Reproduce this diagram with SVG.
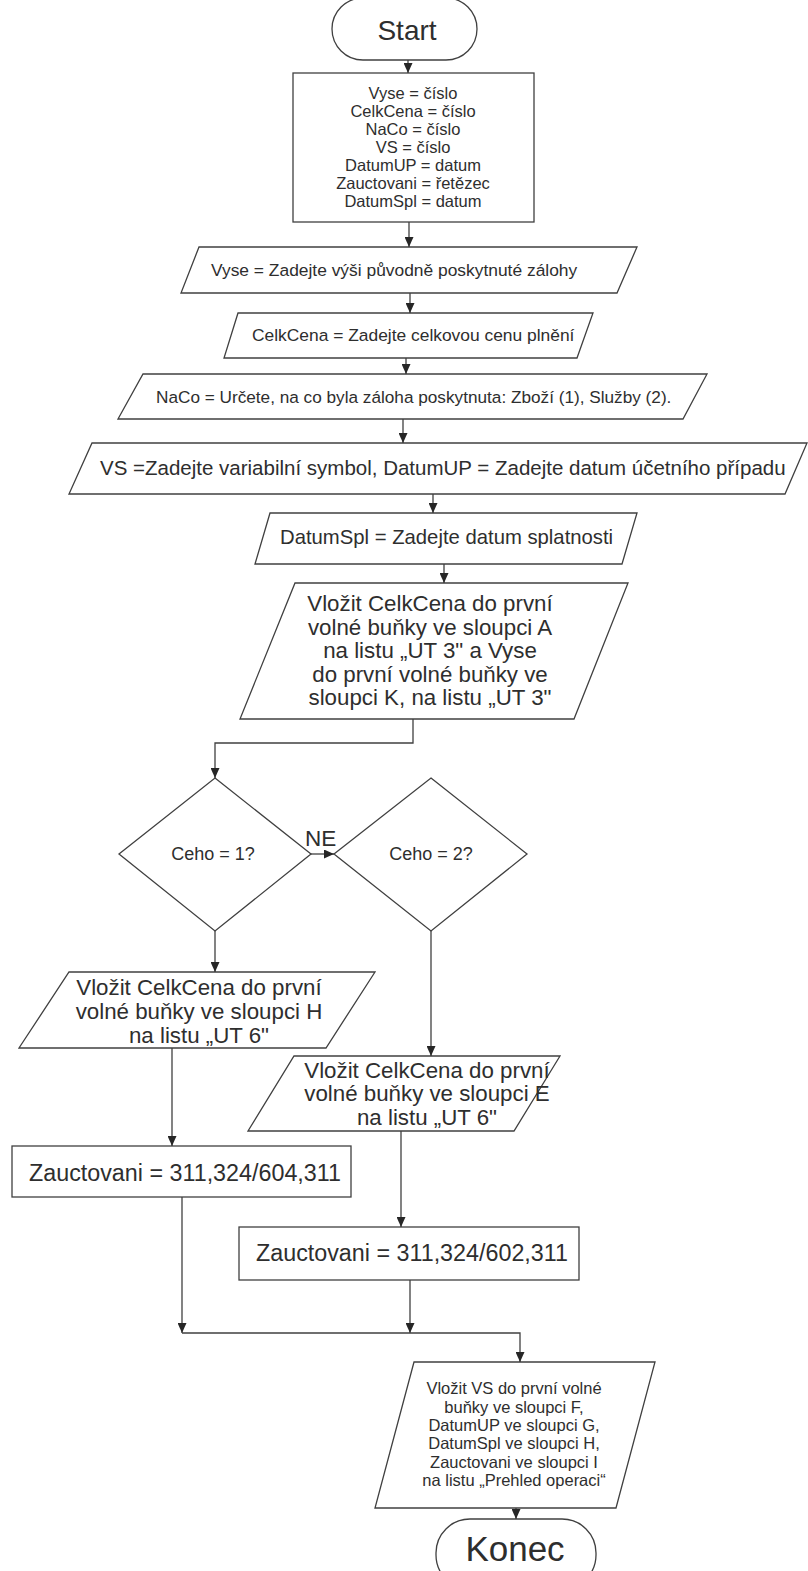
<svg xmlns="http://www.w3.org/2000/svg" width="808" height="1571" viewBox="0 0 808 1571">
<defs>
<style>
.s{fill:#fff;stroke:#404040;stroke-width:1.3}
.c{fill:none;stroke:#404040;stroke-width:1.3}
text{font-family:"Liberation Sans",Arial,sans-serif;fill:#2e2e2e}
.m{text-anchor:middle}
</style>
<marker id="a" markerUnits="userSpaceOnUse" markerWidth="10" markerHeight="9" refX="10" refY="4.5" orient="auto">
<path d="M0,0 L10,4.5 L0,9 z" fill="#262626"/>
</marker>
</defs>
<rect width="808" height="1571" fill="#fff"/>

<g id="start">
<rect class="s" x="332" y="-2" width="145" height="62" rx="31"/>
<text class="m" x="407" y="40" font-size="28">Start</text>
</g>

<g id="decl">
<rect class="s" x="293" y="73" width="241" height="149"/>
<g class="m" font-size="16.5">
<text x="413" y="99">Vyse = číslo</text>
<text x="413" y="117">CelkCena = číslo</text>
<text x="413" y="135">NaCo = číslo</text>
<text x="413" y="153">VS = číslo</text>
<text x="413" y="171">DatumUP = datum</text>
<text x="413" y="189">Zauctovani = řetězec</text>
<text x="413" y="207">DatumSpl = datum</text>
</g>
</g>

<g id="in1">
<polygon class="s" points="199,247 637,247 617,293 181,293"/>
<text x="211" y="276" font-size="17.4">Vyse = Zadejte výši původně poskytnuté zálohy</text>
</g>

<g id="in2">
<polygon class="s" points="238,313 593,313 577,358 224,358"/>
<text x="252" y="341" font-size="17.4">CelkCena = Zadejte celkovou cenu plnění</text>
</g>

<g id="in3">
<polygon class="s" points="143,374 707,374 683,419 118,419"/>
<text x="156" y="403" font-size="17.2">NaCo = Určete, na co byla záloha poskytnuta: Zboží (1), Služby (2).</text>
</g>

<g id="in4">
<polygon class="s" points="92,443 807,443 785,494 69,494"/>
<text x="100" y="475" font-size="20.5">VS =Zadejte variabilní symbol, DatumUP = Zadejte datum účetního případu</text>
</g>

<g id="in5">
<polygon class="s" points="270,513 637,513 622,564 255,564"/>
<text x="280" y="544" font-size="20.3">DatumSpl = Zadejte datum splatnosti</text>
</g>

<g id="ut3">
<polygon class="s" points="295,583 628,583 574,719 240,719"/>
<g class="m" font-size="22.3">
<text x="430" y="611">Vložit CelkCena do první</text>
<text x="430" y="635">volné buňky ve sloupci A</text>
<text x="430" y="658">na listu „UT 3" a Vyse</text>
<text x="430" y="682">do první volné buňky ve</text>
<text x="430" y="705">sloupci K, na listu „UT 3"</text>
</g>
</g>

<g id="d1">
<polygon class="s" points="215,778 311,854 215,931 119,854"/>
<text class="m" x="213" y="860" font-size="18">Ceho = 1?</text>
</g>

<g id="d2">
<polygon class="s" points="431,778 527,854 431,931 334,854"/>
<text class="m" x="431" y="860" font-size="18">Ceho = 2?</text>
</g>

<g id="ut6h">
<polygon class="s" points="69,972 375,972 326,1048 19,1048"/>
<g class="m" font-size="22.3">
<text x="199" y="995">Vložit CelkCena do první</text>
<text x="199" y="1019">volné buňky ve sloupci H</text>
<text x="199" y="1043">na listu „UT 6"</text>
</g>
</g>

<g id="ut6e">
<polygon class="s" points="294,1056 560,1056 514,1131 248,1131"/>
<g class="m" font-size="22.3">
<text x="427" y="1078">Vložit CelkCena do první</text>
<text x="427" y="1101">volné buňky ve sloupci E</text>
<text x="427" y="1125">na listu „UT 6"</text>
</g>
</g>

<g id="z1">
<rect class="s" x="12" y="1146" width="339" height="51"/>
<text x="29" y="1181" font-size="23.3">Zauctovani = 311,324/604,311</text>
</g>

<g id="z2">
<rect class="s" x="239" y="1227" width="340" height="53"/>
<text x="256" y="1261" font-size="23.3">Zauctovani = 311,324/602,311</text>
</g>

<g id="prehled">
<polygon class="s" points="414,1362 655,1362 616,1508 375,1508"/>
<g class="m" font-size="16.5">
<text x="514" y="1394">Vložit VS do první volné</text>
<text x="514" y="1413">buňky ve sloupci F,</text>
<text x="514" y="1431">DatumUP ve sloupci G,</text>
<text x="514" y="1449">DatumSpl ve sloupci H,</text>
<text x="514" y="1468">Zauctovani ve sloupci I</text>
<text x="514" y="1486">na listu „Prehled operaci“</text>
</g>
</g>

<g id="konec">
<rect class="s" x="436" y="1519" width="160" height="70" rx="34"/>
<text class="m" x="515" y="1561" font-size="35">Konec</text>
</g>

<g id="connectors" class="c" marker-end="url(#a)">
<path d="M408,60 V73"/>
<path d="M409,222 V247"/>
<path d="M410,293 V313"/>
<path d="M406,358 V374"/>
<path d="M403,419 V443"/>
<path d="M433,494 V513"/>
<path d="M444,564 V583"/>
<path d="M413,719 V743 H215 V778"/>
<path d="M311,854 H334"/>
<path d="M215,931 V972"/>
<path d="M431,931 V1056"/>
<path d="M172,1048 V1146"/>
<path d="M401,1131 V1227"/>
<path d="M182,1197 V1333"/>
<path d="M410,1280 V1333"/>
<path d="M182,1333 H520 V1362"/>
<path d="M516,1508 V1519"/>
</g>
<text x="305" y="846" font-size="22.5">NE</text>
</svg>
